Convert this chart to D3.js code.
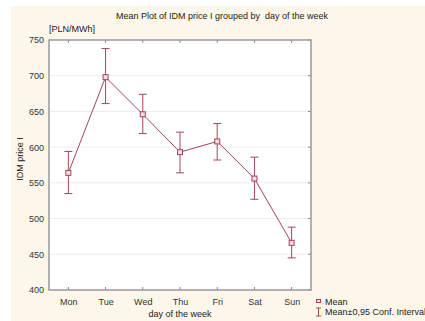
<!DOCTYPE html>
<html>
<head>
<meta charset="utf-8">
<script src="https://cdn.jsdelivr.net/npm/d3@7"></script>
<style>
  body { margin: 0; background: #fff; }
  text { font-family: Arial, "Liberation Sans", sans-serif; fill: #222; white-space: pre; }
</style>
</head>
<body>
<div id="chart"></div>
<script>
// data
var days = ["Mon", "Tue", "Wed", "Thu", "Fri", "Sat", "Sun"];
var means = [564, 698, 646, 593, 608, 556, 466];
var upper = [594, 738, 674, 621, 633, 586, 488];
var lower = [535, 661, 619, 564, 582, 527, 445];
var yTicks = [400, 450, 500, 550, 600, 650, 700, 750];

var width = 425, height = 321;
var pLeft = 49, pRight = 311, pTop = 40, pBottom = 290;
var clr = "#a3455a";

var svg = d3.select("#chart").append("svg")
  .attr("width", width)
  .attr("height", height);

// cream page behind the plot
svg.append("rect")
  .attr("x", 11).attr("y", 6)
  .attr("width", width - 11).attr("height", height - 6)
  .attr("fill", "#fcf7ea");

svg.append("rect")
  .attr("x", pLeft).attr("y", pTop)
  .attr("width", pRight - pLeft).attr("height", pBottom - pTop)
  .attr("fill", "#fff");

var x = d3.scalePoint().domain(days).range([pLeft, pRight]).padding(0.52);
var y = d3.scaleLinear().domain([400, 750]).range([pBottom, pTop]);

// grid lines
svg.append("g")
  .selectAll("line")
  .data(yTicks.slice(1, -1))
  .enter().append("line")
  .attr("x1", pLeft).attr("x2", pRight)
  .attr("y1", function(d) { return y(d); })
  .attr("y2", function(d) { return y(d); })
  .style("stroke", "#ececec")
  .style("stroke-width", 1);

// axes
var yAxis = svg.append("g")
  .attr("transform", "translate(" + pLeft + ",0)")
  .call(d3.axisLeft(y).tickValues(yTicks).tickSize(0).tickPadding(5));
yAxis.select(".domain").remove();
yAxis.selectAll("text").style("font-size", "9px").style("fill", "#333");

var xAxis = svg.append("g")
  .attr("transform", "translate(0," + pBottom + ")")
  .call(d3.axisBottom(x).tickSize(0).tickPadding(9));
xAxis.select(".domain").remove();
xAxis.selectAll("text").style("font-size", "9px").style("fill", "#333");

// inward tick marks on top and bottom
svg.append("g").selectAll("line")
  .data(days).enter().append("line")
  .attr("x1", function(d) { return x(d); })
  .attr("x2", function(d) { return x(d); })
  .attr("y1", pTop).attr("y2", pTop + 3)
  .style("stroke", "#888");
svg.append("g").selectAll("line")
  .data(days).enter().append("line")
  .attr("x1", function(d) { return x(d); })
  .attr("x2", function(d) { return x(d); })
  .attr("y1", pBottom).attr("y2", pBottom - 3)
  .style("stroke", "#888");
svg.append("g").selectAll("line")
  .data(yTicks).enter().append("line")
  .attr("x1", pRight).attr("x2", pRight - 3)
  .attr("y1", function(d) { return y(d); })
  .attr("y2", function(d) { return y(d); })
  .style("stroke", "#888");

// frame
svg.append("rect")
  .attr("x", pLeft).attr("y", pTop)
  .attr("width", pRight - pLeft).attr("height", pBottom - pTop)
  .attr("fill", "none")
  .style("stroke", "#999")
  .style("stroke-width", 1.5);

// error bars
var eb = svg.append("g").selectAll("g")
  .data(days).enter().append("g");
eb.append("line")
  .attr("x1", function(d) { return x(d); })
  .attr("x2", function(d) { return x(d); })
  .attr("y1", function(d, i) { return y(upper[i]); })
  .attr("y2", function(d, i) { return y(lower[i]); })
  .style("stroke", clr).style("stroke-width", 1);
eb.append("line")
  .attr("x1", function(d) { return x(d) - 4; })
  .attr("x2", function(d) { return x(d) + 4; })
  .attr("y1", function(d, i) { return y(upper[i]); })
  .attr("y2", function(d, i) { return y(upper[i]); })
  .style("stroke", clr).style("stroke-width", 1);
eb.append("line")
  .attr("x1", function(d) { return x(d) - 4; })
  .attr("x2", function(d) { return x(d) + 4; })
  .attr("y1", function(d, i) { return y(lower[i]); })
  .attr("y2", function(d, i) { return y(lower[i]); })
  .style("stroke", clr).style("stroke-width", 1);

// mean line
var line = d3.line()
  .x(function(d, i) { return x(days[i]); })
  .y(function(d) { return y(d); });
svg.append("path")
  .datum(means)
  .attr("d", line)
  .attr("fill", "none")
  .style("stroke", clr)
  .style("stroke-width", 1);

svg.append("g").selectAll("rect")
  .data(means).enter().append("rect")
  .attr("x", function(d, i) { return x(days[i]) - 2.5; })
  .attr("y", function(d) { return y(d) - 2.5; })
  .attr("width", 5).attr("height", 5)
  .attr("fill", "#f3dde2")
  .style("stroke", clr).style("stroke-width", 1);

// texts
svg.append("text")
  .attr("x", 222).attr("y", 19)
  .attr("text-anchor", "middle")
  .style("font-size", "9px")
  .text("Mean Plot of IDM price I grouped by  day of the week");

svg.append("text")
  .attr("x", 49).attr("y", 32)
  .style("font-size", "9px")
  .text("[PLN/MWh]");

svg.append("text")
  .attr("transform", "translate(23," + ((pTop + pBottom) / 2 - 6) + ") rotate(-90)")
  .attr("text-anchor", "middle")
  .style("font-size", "9px")
  .text("IDM price I");

svg.append("text")
  .attr("x", 180).attr("y", 317)
  .attr("text-anchor", "middle")
  .style("font-size", "9px")
  .text("day of the week");

// legend
svg.append("rect")
  .attr("x", 316.5).attr("y", 299.5)
  .attr("width", 4).attr("height", 3)
  .attr("fill", "#f3dde2")
  .style("stroke", clr).style("stroke-width", 1);
svg.append("text")
  .attr("x", 325).attr("y", 305)
  .style("font-size", "9px")
  .text("Mean");

var lg = svg.append("g").style("stroke", clr).style("stroke-width", 1);
lg.append("line").attr("x1", 318.5).attr("x2", 318.5).attr("y1", 308).attr("y2", 316);
lg.append("line").attr("x1", 316).attr("x2", 321).attr("y1", 308).attr("y2", 308);
lg.append("line").attr("x1", 316).attr("x2", 321).attr("y1", 316).attr("y2", 316);
svg.append("text")
  .attr("x", 325).attr("y", 315)
  .style("font-size", "9px")
  .text("Mean±0,95 Conf. Interval");
</script>
</body>
</html>
